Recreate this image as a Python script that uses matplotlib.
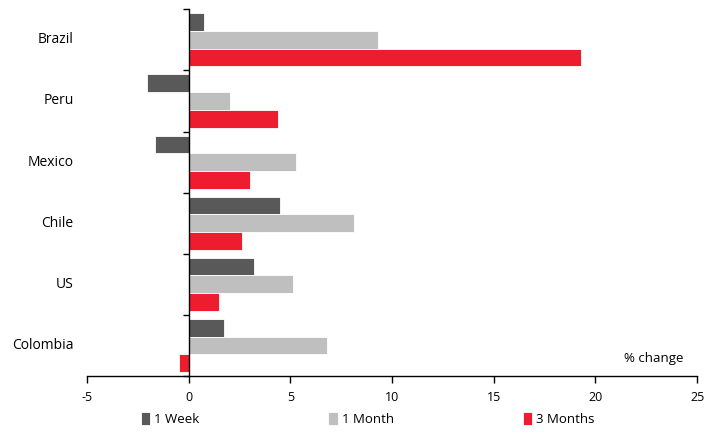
import numpy as np
import matplotlib
matplotlib.use('Agg')
import matplotlib.pyplot as plt
from matplotlib.transforms import blended_transform_factory

plt.rcParams['font.family'] = ['Open Sans', 'DejaVu Sans']
plt.rcParams['axes.unicode_minus'] = False

countries = ['Brazil', 'Peru', 'Mexico', 'Chile', 'US', 'Colombia']
week = [0.76, -2.04, -1.67, 4.5, 3.22, 1.75]
month = [9.3, 2.04, 5.3, 8.14, 5.14, 6.81]
three_months = [19.3, 4.4, 3.0, 2.63, 1.5, -0.49]
series_names = ['1 Week', '1 Month', '3 Months']
colors = ['#595959', '#bfbfbf', '#ed1c2e']
xticks = [-5, 0, 5, 10, 15, 20, 25]

fig = plt.figure(figsize=(7.22, 4.34), dpi=100)
ax = fig.add_axes([0.1205, 0.1336, 0.845, 0.845])

y = np.arange(len(countries))
h = 0.29
for k, (vals, name, c) in enumerate(zip([week, month, three_months], series_names, colors)):
    ax.barh(y + (k - 1) * h, vals, height=h, color=c, label=name,
            edgecolor='white', linewidth=0.6)

ax.set_ylim(len(countries) - 0.5, -0.5)
ax.set_xlim(-5, 25)
ax.set_xticks(xticks)
ax.tick_params(axis='x', length=5, width=1, labelsize=9, pad=6, color='black')

# vertical axis line sits at zero, ticks separate the country groups
ax.spines['left'].set_position(('data', 0))
ax.spines['left'].set_linewidth(1)
ax.spines['bottom'].set_linewidth(1)
ax.spines['top'].set_visible(False)
ax.spines['right'].set_visible(False)
ax.set_yticks(np.arange(len(countries) + 1) - 0.5)
ax.set_yticklabels([])
ax.tick_params(axis='y', length=4.5, width=1)

tr = blended_transform_factory(ax.transAxes, ax.transData)
for yi, name in zip(y, countries):
    ax.text(-0.022, yi, name, transform=tr, ha='right', va='center', fontsize=10)

ax.text(0.977, 0.03, '% change', transform=ax.transAxes, ha='right', va='bottom', fontsize=9.5)

ax.legend(loc='upper center', bbox_to_anchor=(0.46, -0.085), ncol=3, frameon=False,
          fontsize=9.5, handlelength=0.7, handleheight=1.1, handletextpad=0.3,
          columnspacing=9.8, borderaxespad=0)

fig.savefig('out.png', dpi=100)
